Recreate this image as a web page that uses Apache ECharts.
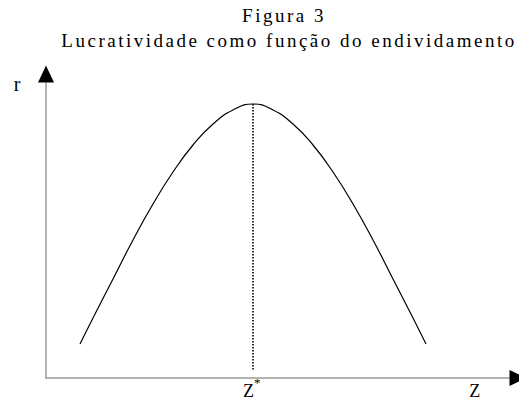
<!DOCTYPE html>
<html>
<head>
<meta charset="utf-8">
<script src="https://cdn.jsdelivr.net/npm/echarts@6/dist/echarts.min.js"></script>
<style>
  html, body { margin: 0; padding: 0; background: #fff; }
  #chart { width: 519px; height: 398px; }
  /* widely tracked Times-style lettering */
  #chart text {
    font-family: 'Liberation Serif', 'Times New Roman', serif !important;
    letter-spacing: 2.5px;
  }
</style>
</head>
<body>
<div id="chart"></div>
<script>
// Profitability (r) as a function of indebtedness (Z)
const zValues = [34, 47, 67, 87, 107, 127, 147, 167, 187, 207, 227, 247, 267, 287, 307, 327, 347, 367, 380];
const rValues = [34, 60, 99, 138, 174, 206, 233, 254, 268, 274, 268, 254, 233, 206, 174, 138, 99, 60, 34];
const zStar = 207;          // indebtedness giving maximum profitability
const guideBottom = 8;      // lower end of the dotted guide under the peak
const zAxisMax = 472;
const rAxisMax = 304;
const tickValues = [zStar, 430];
const tickLabels = ['{z|Z}{s|*}', '{z|Z}'];
const rLabel = 'r';
const titleText = 'Figura 3';
const subtitleText = 'Lucratividade como função do endividamento';

const serif = 'Liberation Serif';
const rPeak = rValues[zValues.indexOf(zStar)];

const chart = echarts.init(document.getElementById('chart'), null, { renderer: 'svg' });

const hiddenParts = {
  axisTick: { show: false },
  axisLabel: { show: false },
  splitLine: { show: false }
};

const textBase = { fontFamily: serif, fontWeight: 'normal', color: '#000' };

chart.setOption({
  animation: false,
  backgroundColor: '#fff',
  title: [
    {
      text: titleText, left: 284, top: 6, textAlign: 'center', padding: 0,
      textStyle: Object.assign({ fontSize: 19 }, textBase)
    },
    {
      text: subtitleText, left: 289, top: 31, textAlign: 'center', padding: 0,
      textStyle: Object.assign({ fontSize: 19 }, textBase)
    }
  ],
  grid: { left: 46, right: 1, top: 74, bottom: 20, outerBoundsMode: 'none' },
  xAxis: [
    {
      type: 'value', min: 0, max: zAxisMax,
      axisLine: { onZero: false, lineStyle: { color: '#9a9a9a', width: 1.5 } },
      axisTick: { show: false },
      splitLine: { show: false },
      axisLabel: {
        customValues: tickValues,
        margin: -2,
        formatter: (v) => tickLabels[tickValues.indexOf(v)],
        rich: {
          z: Object.assign({ fontSize: 18, lineHeight: 30, verticalAlign: 'middle' }, textBase),
          s: Object.assign({ fontSize: 13, verticalAlign: 'top' }, textBase)
        }
      }
    },
    Object.assign({
      type: 'value', min: 0, max: zAxisMax, position: 'bottom',
      axisLine: {
        onZero: false, symbol: ['none', 'triangle'], symbolSize: [16, 17],
        lineStyle: { color: '#000', width: 0 }
      }
    }, hiddenParts)
  ],
  yAxis: [
    {
      type: 'value', min: 0, max: rAxisMax,
      name: rLabel, nameLocation: 'end', nameGap: -10,
      nameTextStyle: Object.assign({
        fontSize: 20, align: 'right', verticalAlign: 'middle', padding: [0, 23, 0, 0]
      }, textBase),
      axisLine: { onZero: false, lineStyle: { color: '#9a9a9a', width: 1.5 } },
      axisTick: { show: false },
      axisLabel: { show: false },
      splitLine: { show: false }
    },
    Object.assign({
      type: 'value', min: 0, max: rAxisMax, position: 'left',
      axisLine: {
        onZero: false, symbol: ['none', 'triangle'], symbolSize: [16, 17],
        lineStyle: { color: '#000', width: 0 }
      }
    }, hiddenParts)
  ],
  series: [
    {
      type: 'line',
      data: zValues.map((z, i) => [z, rValues[i]]),
      smooth: true,
      showSymbol: false,
      silent: true,
      lineStyle: { color: '#000', width: 1.2 }
    },
    {
      type: 'line',
      data: [[zStar, rPeak], [zStar, guideBottom]],
      showSymbol: false,
      silent: true,
      lineStyle: { color: '#000', width: 1.6, type: [1.5, 1.5] }
    }
  ]
});
</script>
</body>
</html>
